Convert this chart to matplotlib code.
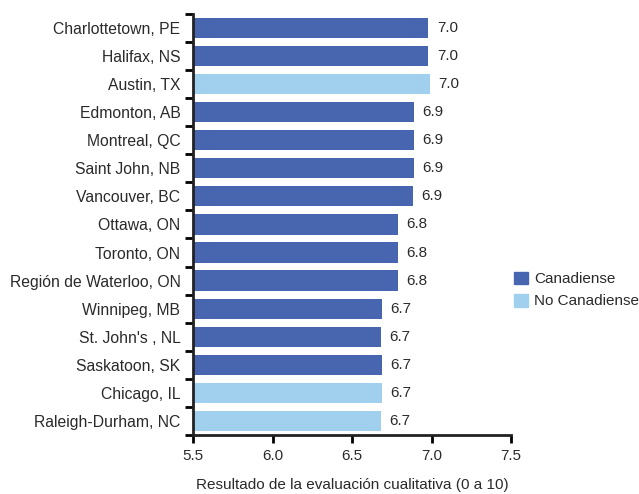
import numpy as np
import matplotlib
matplotlib.use("Agg")
from matplotlib import pyplot as plt
from matplotlib.patches import Patch

plt.rcParams['font.family'] = ['Liberation Sans', 'DejaVu Sans']

# data (top to bottom)
cities = ["Charlottetown, PE", "Halifax, NS", "Austin, TX", "Edmonton, AB",
          "Montreal, QC", "Saint John, NB", "Vancouver, BC", "Ottawa, ON",
          "Toronto, ON", "Región de Waterloo, ON", "Winnipeg, MB",
          "St. John's , NL", "Saskatoon, SK", "Chicago, IL", "Raleigh-Durham, NC"]
scores = [6.98, 6.98, 6.99, 6.89, 6.89, 6.89, 6.88, 6.79, 6.79, 6.79,
          6.69, 6.68, 6.69, 6.69, 6.68]
canadian = [True, True, False, True, True, True, True, True, True, True,
            True, True, True, False, False]
xticks = [5.5, 6.0, 6.5, 7.0, 7.5]

dark = "#4866B0"
light = "#A0D0EE"
txt = "#2a2a2a"

fig = plt.figure(figsize=(6.39, 4.94), dpi=100)
ax = fig.add_axes([0.302, 0.1194, 0.498, 0.8526])

y = np.arange(len(cities))
colors = [dark if c else light for c in canadian]
ax.barh(y, scores, height=0.72, color=colors, left=0)

for yi, v in zip(y, scores):
    ax.annotate(f"{v:.1f}", (v, yi), xytext=(6, 0), textcoords="offset points",
                va="center", ha="left", fontsize=11, color=txt)

ax.set_xlim(5.5, 7.5)
ax.set_ylim(len(cities) - 0.5, -0.5)
ax.set_xticks(xticks)
ax.set_xticklabels([f"{t:.1f}" for t in xticks], fontsize=11, color=txt)
ax.set_yticks(y)
ax.set_yticklabels(cities, fontsize=11.3, color=txt)
ax.tick_params(axis='y', which='major', length=0, pad=9)
ax.set_yticks(np.arange(len(cities) + 1) - 0.5, minor=True)
ax.tick_params(axis='y', which='minor', length=6, width=2, direction='out')
ax.tick_params(axis='x', length=6, width=2, direction='out', pad=4)

for s in ['top', 'right']:
    ax.spines[s].set_visible(False)
for s in ['left', 'bottom']:
    ax.spines[s].set_linewidth(2)
    ax.spines[s].set_color("#222222")

ax.set_xlabel("Resultado de la evaluación cualitativa (0 a 10)", fontsize=11,
              color=txt, labelpad=11)

handles = [Patch(color=dark, label="Canadiense"),
           Patch(color=light, label="No Canadiense")]
fig.legend(handles=handles, loc="upper left", bbox_to_anchor=(0.783, 0.478),
           frameon=False, fontsize=11, handlelength=0.9, handleheight=0.9,
           handletextpad=0.4, labelspacing=0.5, labelcolor=txt)

fig.savefig("out.png", dpi=100)
